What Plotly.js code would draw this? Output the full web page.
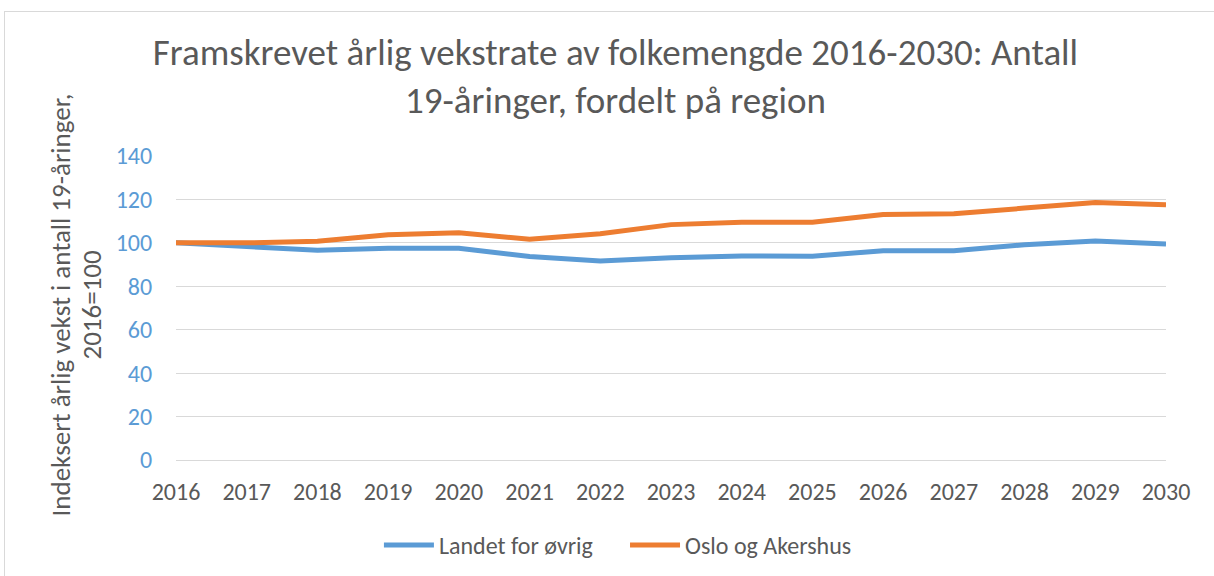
<!DOCTYPE html>
<html>
<head>
<meta charset="utf-8">
<script src="https://cdn.plot.ly/plotly-3.0.1.min.js"></script>
<style>
html,body{margin:0;padding:0;background:#fff;overflow:hidden;}
#frame{position:absolute;left:4px;top:11px;width:1220px;height:580px;border:1px solid #d9d9d9;box-sizing:border-box;}
#chart{position:absolute;left:0;top:0;width:1214px;height:576px;}
</style>
</head>
<body>
<div id="frame"></div>
<div id="chart"></div>
<script>
const years = ["2016","2017","2018","2019","2020","2021","2022","2023","2024","2025","2026","2027","2028","2029","2030"];
const landetForOvrig = [100, 98.3, 96.6, 97.5, 97.5, 93.7, 91.7, 93.1, 94.0, 93.8, 96.4, 96.4, 99.1, 100.9, 99.5];
const osloOgAkershus = [100, 100, 100.7, 103.7, 104.6, 101.7, 104.2, 108.4, 109.5, 109.5, 113.1, 113.4, 116.0, 118.6, 117.5];
const seriesNames = ["Landet for øvrig", "Oslo og Akershus"];
const yTitleLines = ["Indeksert årlig vekst i antall 19-åringer,", "2016=100"];

const font = "Carlito, Calibri, 'Open Sans', 'Liberation Sans', sans-serif";
const pad = "\u00a0\u00a0\u00a0\u00a0\u00a0";

const traces = [
  {x: years, y: landetForOvrig, name: seriesNames[0] + pad, type: "scatter", mode: "lines",
   line: {color: "#5B9BD5", width: 5}},
  {x: years, y: osloOgAkershus, name: seriesNames[1], type: "scatter", mode: "lines",
   line: {color: "#ED7D31", width: 5}}
];

const L = 176, R = 48, W = 1214;
const pw = W - L - R;

const layout = {
  width: 1214, height: 576,
  paper_bgcolor: "rgba(0,0,0,0)", plot_bgcolor: "rgba(0,0,0,0)",
  margin: {l: L, r: R, t: 156, b: 116},
  font: {family: font, color: "#595959"},
  title: {
    text: "Framskrevet årlig vekstrate av folkemengde 2016-2030: Antall<br>19-åringer, fordelt på region",
    font: {size: 37, color: "#595959", family: font},
    x: 0.507, xanchor: "center", xref: "container",
    y: 0.887, yanchor: "top", yref: "container"
  },
  xaxis: {
    type: "category", range: [0, 14],
    showgrid: false, zeroline: false,
    showline: false,
    tickfont: {size: 24, color: "#595959"},
    ticks: "outside", ticklen: 10, tickcolor: "rgba(0,0,0,0)"
  },
  yaxis: {
    range: [0, 140], dtick: 20,
    showgrid: true, gridcolor: "#d9d9d9", gridwidth: 1,
    zeroline: true, zerolinecolor: "#d9d9d9", zerolinewidth: 1,
    tickfont: {size: 24, color: "#5B9BD5"},
    ticks: "outside", ticklen: 18, tickcolor: "rgba(0,0,0,0)"
  },
  annotations: [
    {text: yTitleLines[0], textangle: -90, xref: "paper", yref: "paper",
     x: (60 - L) / pw, y: 0.5 + (308 - 305.5) / 304, xanchor: "center", yanchor: "middle",
     showarrow: false, font: {size: 27, color: "#595959"}},
    {text: yTitleLines[1], textangle: -90, xref: "paper", yref: "paper",
     x: (91 - L) / pw, y: 0.5 + (308 - 305.5) / 304, xanchor: "center", yanchor: "middle",
     showarrow: false, font: {size: 27, color: "#595959"}}
  ],
  legend: {
    orientation: "h", x: 0.509, xanchor: "center", xref: "container",
    y: 0.092, yanchor: "top", yref: "container",
    font: {size: 24, color: "#595959"},
    itemwidth: 50, tracegroupgap: 0
  },
  showlegend: true
};

Plotly.newPlot("chart", traces, layout, {displayModeBar: false, staticPlot: true});
</script>
</body>
</html>
